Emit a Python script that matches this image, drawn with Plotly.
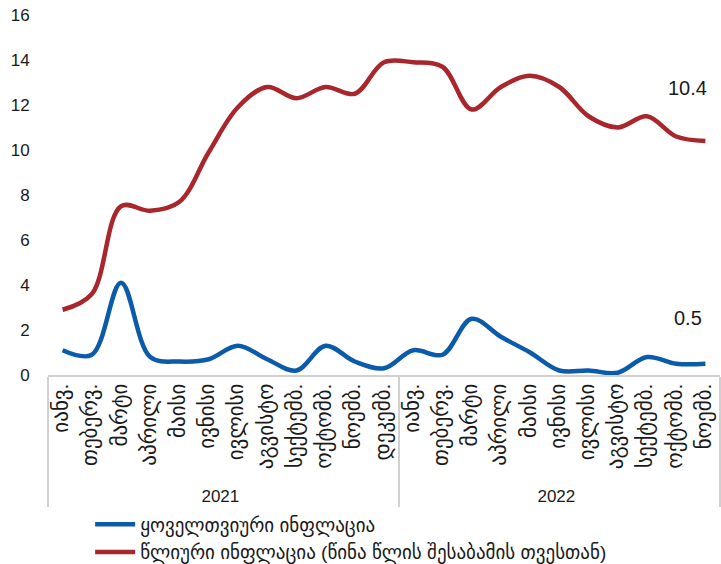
import plotly.graph_objects as go

months = ["იანვ.", "თებერვ.", "მარტი", "აპრილი", "მაისი", "ივნისი", "ივლისი",
          "აგვისტო", "სექტემბ.", "ოქტომბ.", "ნოემბ.", "დეკემბ."]
years = ["2021"] * 12 + ["2022"] * 11
month_labels = months + months[:11]

monthly = [1.1, 0.9, 4.1, 0.8, 0.6, 0.7, 1.3, 0.7, 0.2, 1.3, 0.6, 0.3,
           1.1, 0.9, 2.5, 1.7, 1.0, 0.2, 0.2, 0.1, 0.8, 0.5, 0.5]
annual = [2.9, 3.6, 7.5, 7.3, 7.7, 9.9, 11.9, 12.8, 12.3, 12.8, 12.5, 13.9,
          13.9, 13.7, 11.8, 12.8, 13.3, 12.8, 11.5, 11.0, 11.5, 10.6, 10.4]

name_monthly = "ყოველთვიური ინფლაცია"
name_annual = "წლიური ინფლაცია (წინა წლის შესაბამის თვესთან)"

font_family = "Arial, Liberation Sans, DejaVu Sans, sans-serif"

# month labels drawn a bit larger than the year labels
x_months = [f"<span style='font-size:21px'>{m}</span>" for m in month_labels]

fig = go.Figure()
fig.add_trace(go.Scatter(x=[years, x_months], y=monthly, mode="lines",
                         name=name_monthly,
                         line=dict(color="#0B5BAA", width=4.5, shape="spline", smoothing=1.0)))
fig.add_trace(go.Scatter(x=[years, x_months], y=annual, mode="lines",
                         name=name_annual,
                         line=dict(color="#A8262C", width=4.5, shape="spline", smoothing=1.0)))

fig.add_annotation(xref="paper", yref="y", x=0.952, y=12.75, xanchor="center",
                   text=str(annual[-1]), showarrow=False,
                   font=dict(size=20, color="#1a1a1a"))
fig.add_annotation(xref="paper", yref="y", x=0.952, y=2.53, xanchor="center",
                   text=str(monthly[-1]), showarrow=False,
                   font=dict(size=20, color="#1a1a1a"))

fig.update_layout(
    width=721, height=564,
    margin=dict(l=48, r=1, t=15, b=189, autoexpand=False),
    plot_bgcolor="white", paper_bgcolor="white",
    font=dict(family=font_family, color="#1a1a1a", size=16),
    showlegend=True,
    legend=dict(xref="container", yref="container", x=0.125, y=0.104,
                xanchor="left", yanchor="top",
                font=dict(size=19), tracegroupgap=0, itemwidth=40,
                bgcolor="rgba(0,0,0,0)"),
)
fig.update_xaxes(type="multicategory", tickangle=-90, automargin=False,
                 tickfont=dict(size=17), showgrid=False,
                 showline=True, linecolor="#d0d0d0", linewidth=1.5,
                 showdividers=True, dividercolor="#d0d0d0", dividerwidth=1.5,
                 ticks="", range=[-0.5, 22.5])
fig.update_yaxes(range=[0, 16], dtick=2, showgrid=False, zeroline=False,
                 automargin=False, showline=False, tickfont=dict(size=17),
                 ticks="outside", ticklen=14, tickcolor="rgba(0,0,0,0)")

fig.write_html("out.html", config={"displayModeBar": False},
               post_script="document.body.style.margin='0px';document.body.style.padding='0px';")
